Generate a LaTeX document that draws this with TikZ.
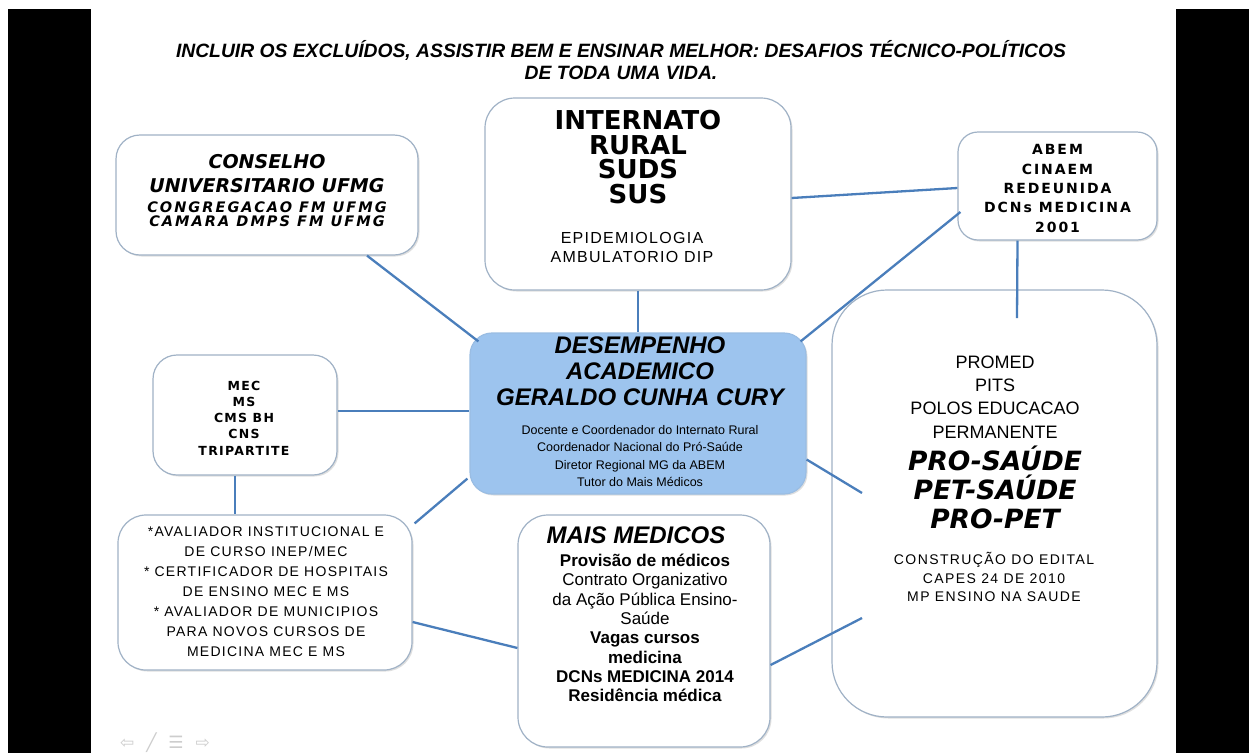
\documentclass[tikz,border=0pt]{standalone}
\usepackage{fontspec}
\setmainfont{Liberation Sans}
\newfontfamily\dvs{DejaVu Sans}
\newfontfamily\consS[LetterSpace=14]{DejaVu Sans}
\newfontfamily\abemf[LetterSpace=14]{DejaVu Sans}
\newfontfamily\mecf[LetterSpace=10]{DejaVu Sans}
\newfontfamily\epid[LetterSpace=8]{Liberation Sans}
\newfontfamily\aval[LetterSpace=9]{Liberation Sans}
\newfontfamily\constr[LetterSpace=10]{Liberation Sans}
\usetikzlibrary{shadows}
\definecolor{boxc}{RGB}{160,178,198}
\definecolor{linec}{RGB}{74,126,187}
\definecolor{cfill}{RGB}{157,196,238}
\definecolor{navc}{RGB}{205,205,205}
\begin{document}
\begin{tikzpicture}[x=1pt,y=-1pt,
  box/.style={draw=boxc, line width=1.2pt, fill=white, inner sep=0pt,
    drop shadow={shadow xshift=1.5pt,shadow yshift=-1.5pt,opacity=.35,fill=black!35}},
  conn/.style={draw=linec, line width=2.3pt},
  txt/.style={align=center, inner sep=0pt, text=black}]
\useasboundingbox (0,0) rectangle (1249,753);
\fill[white] (0,0) rectangle (1249,753);
\fill[black] (8,9) rectangle (91,753);
\fill[black] (1176,9) rectangle (1249,753);

% title
\node[txt, font=\fontsize{19.3}{22}\selectfont\bfseries\itshape] (title) at (621,60)
  {INCLUIR OS EXCLUÍDOS, ASSISTIR BEM E ENSINAR MELHOR: DESAFIOS TÉCNICO-POLÍTICOS\\DE TODA UMA VIDA.};

% boxes
\node[box, rounded corners=24pt, minimum width=302pt, minimum height=120pt] (c1) at (267,195) {};
\node[box, rounded corners=30pt, minimum width=306pt, minimum height=192pt] (c2) at (638,194) {};
\node[box, rounded corners=20pt, minimum width=199pt, minimum height=108pt] (c3) at (1057.5,186) {};
\node[box, rounded corners=22pt, fill=cfill, draw=cfill!90!gray, minimum width=336pt, minimum height=161pt] (c4) at (638,413.5) {};
\node[box, rounded corners=24pt, minimum width=184pt, minimum height=120pt] (c5) at (245,415) {};
\node[box, rounded corners=28pt, minimum width=294pt, minimum height=155pt] (c6) at (265,592.5) {};
\node[box, rounded corners=30pt, minimum width=252pt, minimum height=232pt] (c7) at (644,631) {};
\node[box, rounded corners=55pt, minimum width=325pt, minimum height=427pt] (c8) at (994.5,503.5) {};

% texts
\node[txt, font=\dvs\fontsize{19}{24}\selectfont\bfseries\itshape] (t1a) at (267,174) {CONSELHO\\UNIVERSITARIO UFMG};
\node[txt, font=\consS\fontsize{14.5}{14.5}\selectfont\bfseries\itshape] (t1b) at (267,214) {CONGREGACAO FM UFMG\\CAMARA DMPS FM UFMG};

\node[txt, font=\dvs\fontsize{26}{24.5}\selectfont\bfseries] (t2a) at (638,157) {INTERNATO\\RURAL\\SUDS\\SUS};
\node[txt, font=\epid\fontsize{16}{19}\selectfont] (t2b) at (632,247) {EPIDEMIOLOGIA\\AMBULATORIO DIP};

\node[txt, font=\abemf\fontsize{14}{19.3}\selectfont\bfseries] (t3) at (1057.5,188.5) {ABEM\\CINAEM\\REDEUNIDA\\DCNs MEDICINA\\2001};

\node[txt, font=\fontsize{24}{26}\selectfont\bfseries\itshape] (t4a) at (640,371) {DESEMPENHO\\ACADEMICO\\GERALDO CUNHA CURY};
\node[txt, font=\fontsize{12.5}{17.3}\selectfont] (t4b) at (640,456) {Docente e Coordenador do Internato Rural\\Coordenador Nacional do Pró-Saúde\\Diretor Regional MG da ABEM\\Tutor do Mais Médicos};

\node[txt, font=\mecf\fontsize{12.5}{16.2}\selectfont\bfseries] (t5) at (244,418) {MEC\\MS\\CMS BH\\CNS\\TRIPARTITE};

\node[txt, font=\aval\fontsize{14}{20}\selectfont] (t6) at (266,592) {*AVALIADOR INSTITUCIONAL E\\DE CURSO INEP/MEC\\* CERTIFICADOR DE HOSPITAIS\\DE ENSINO MEC E MS\\* AVALIADOR DE MUNICIPIOS\\PARA NOVOS CURSOS DE\\MEDICINA MEC E MS};

\node[txt, font=\fontsize{24}{26}\selectfont\bfseries\itshape] (t7a) at (636,535) {MAIS MEDICOS};
\node[txt, font=\fontsize{17}{19.3}\selectfont] (t7b) at (645,628) {\textbf{Provisão de médicos}\\Contrato Organizativo\\da Ação Pública Ensino-\\Saúde\\\textbf{Vagas cursos}\\\textbf{medicina}\\\textbf{DCNs MEDICINA 2014}\\\textbf{Residência médica}};

\node[txt, font=\fontsize{18}{23.3}\selectfont] (t8a) at (995,397) {PROMED\\PITS\\POLOS EDUCACAO\\PERMANENTE};
\node[txt, font=\dvs\fontsize{26.5}{29}\selectfont\bfseries\itshape] (t8b) at (995,487) {PRO-SAÚDE\\PET-SAÚDE\\PRO-PET};
\node[txt, font=\constr\fontsize{14}{18.5}\selectfont] (t8c) at (994,577) {CONSTRUÇÃO DO EDITAL\\CAPES 24 DE 2010\\MP ENSINO NA SAUDE};

% free ends inside the right box
\coordinate (q1) at (1017,318);
\coordinate (q2) at (862,493);
\coordinate (q3) at (862,618);

% connectors
\draw[conn] ([xshift=100pt]c1.south) -- ([xshift=9pt,yshift=-9pt]c4.north west);
\draw[conn] (c2.south) -- (c4.north);
\draw[conn] ([yshift=-4pt]c2.east) -- ([yshift=-2pt]c3.west);
\draw[conn] ([xshift=3pt,yshift=-26pt]c3.west) -- ([xshift=-6pt,yshift=-9pt]c4.north east);
\draw[conn] ([xshift=-40pt]c3.south) -- (q1);
\draw[conn] ([yshift=4pt]c5.east) -- ([yshift=2.5pt]c4.west);
\draw[conn] ([xshift=-10pt]c5.south) -- ([xshift=-30pt]c6.north);
\draw[conn] ([xshift=2pt,yshift=-9pt]c6.north east) -- ([xshift=-2pt,yshift=16pt]c4.south west);
\draw[conn] ([yshift=-29.5pt]c6.east) -- ([yshift=-17pt]c7.west);
\draw[conn] ([yshift=-46pt]c4.east) -- (q2);
\draw[conn] ([yshift=-34pt]c7.east) -- (q3);

% navigation icons
\node[txt, text=navc, font=\dvs\fontsize{17}{17}\selectfont] (nav) at (165,743) {⇦\hspace{12pt}╱\hspace{12pt}☰\hspace{12pt}⇨};
\end{tikzpicture}
\end{document}
